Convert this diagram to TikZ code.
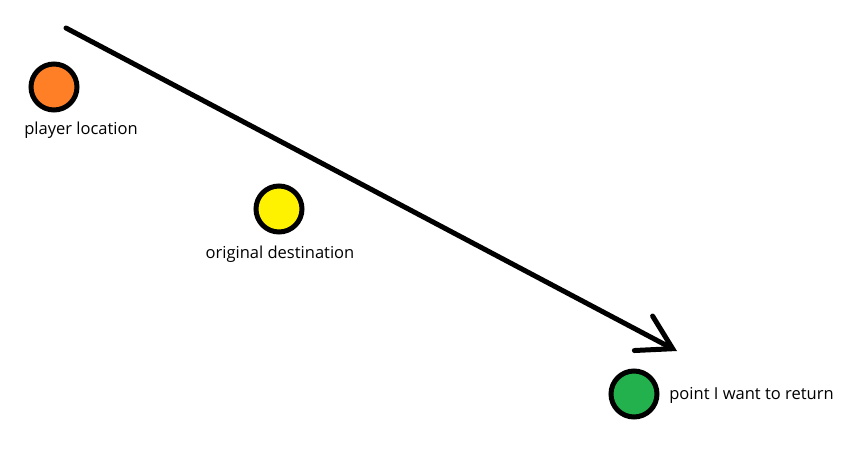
\documentclass[tikz,border=0pt]{standalone}
\usepackage{fontspec}
\setmainfont{Open Sans}
\usetikzlibrary{arrows.meta}
\definecolor{dotorange}{HTML}{FF7F27}
\definecolor{dotyellow}{HTML}{FFF200}
\definecolor{dotgreen}{HTML}{22B14C}

\begin{document}
\begin{tikzpicture}[
  x=0.02cm, y=-0.02cm,
  dot/.style={circle, draw=black, line width=5*0.02cm, minimum size=0.92cm,
              inner sep=0pt},
  lbl/.style={font=\fontsize{9.4pt}{11pt}\selectfont, inner sep=0pt},
  arr/.style={line width=5*0.02cm, line cap=round,
              -{Straight Barb[length=6.6mm, width=7.8mm, line cap=round]}}
]
\useasboundingbox (0,0) rectangle (843,450);
\node[dot, fill=dotorange] (player) at (54,87) {};
\node[dot, fill=dotyellow] (orig) at (279,209) {};
\node[dot, fill=dotgreen] (ret) at (634,394) {};

\node[lbl] (playerlbl) at (81,130) {player location};
\node[lbl] (origlbl) at (280,254) {original destination};
\node[lbl, anchor=west] (retlbl) at (669,395) {point I want to return};

\coordinate (start) at (66,28);
\coordinate (tip) at (677,351);
\draw[arr] (start) -- (tip);
\end{tikzpicture}
\end{document}
